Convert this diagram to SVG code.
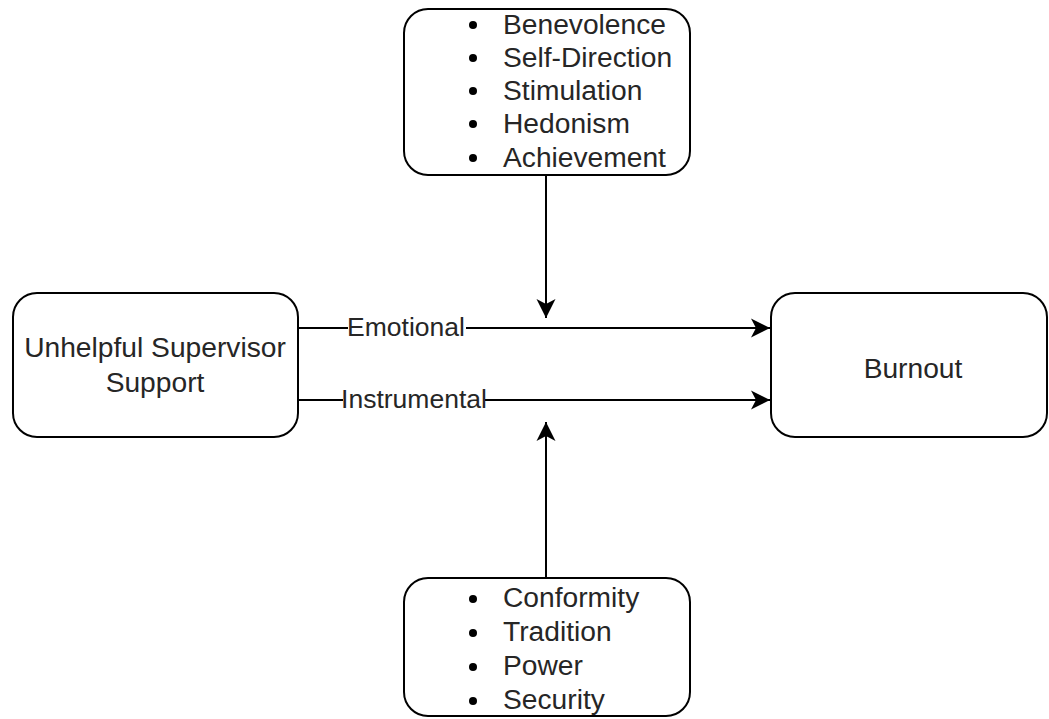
<svg xmlns="http://www.w3.org/2000/svg" width="1049" height="719" viewBox="0 0 1049 719">
<style>
.box{fill:#fff;stroke:#000;stroke-width:2}
.t{font-family:"Liberation Sans",Arial,sans-serif;font-size:28.2px;fill:#262626}
.m{text-anchor:middle}
.edge{stroke:#000;stroke-width:2;fill:none}
.lbl{font-family:"Liberation Sans",Arial,sans-serif;font-size:26.5px;fill:#262626;text-anchor:middle}
</style>
<defs>
<marker id="arr" markerUnits="userSpaceOnUse" viewBox="0 0 20 20" markerWidth="20" markerHeight="20" refX="19" refY="10" orient="auto">
<path d="M0,0.5 L19,10 L0,19.5 L5,10 Z" fill="#000"/>
</marker>
</defs>
<rect width="1049" height="719" fill="#fff"/>
<g id="edges">
<line class="edge" x1="298" y1="328" x2="770" y2="328" marker-end="url(#arr)"/>
<line class="edge" x1="298" y1="400" x2="770" y2="400" marker-end="url(#arr)"/>
<line class="edge" x1="546" y1="175" x2="546" y2="318" marker-end="url(#arr)"/>
<line class="edge" x1="546" y1="578" x2="546" y2="422" marker-end="url(#arr)"/>
<rect x="348" y="314" width="118" height="28" fill="#fff"/>
<text class="lbl" x="406" y="336">Emotional</text>
<rect x="343" y="386" width="142" height="28" fill="#fff"/>
<text class="lbl" x="414" y="408">Instrumental</text>
</g>
<g id="top-values">
<rect class="box" x="404" y="9" width="286" height="166" rx="24"/>
<g fill="#000"><circle cx="473" cy="25" r="4"/><circle cx="473" cy="58" r="4"/><circle cx="473" cy="91" r="4"/><circle cx="473" cy="124" r="4"/><circle cx="473" cy="158" r="4"/></g>
<text class="t" x="503" y="34">Benevolence</text>
<text class="t" x="503" y="67">Self-Direction</text>
<text class="t" x="503" y="100">Stimulation</text>
<text class="t" x="503" y="133">Hedonism</text>
<text class="t" x="503" y="167">Achievement</text>
</g>
<g id="bottom-values">
<rect class="box" x="404" y="578" width="286" height="138" rx="24"/>
<g fill="#000"><circle cx="473" cy="599" r="4"/><circle cx="473" cy="633" r="4"/><circle cx="473" cy="667" r="4"/><circle cx="473" cy="701" r="4"/></g>
<text class="t" x="503" y="607">Conformity</text>
<text class="t" x="503" y="641">Tradition</text>
<text class="t" x="503" y="675">Power</text>
<text class="t" x="503" y="709">Security</text>
</g>
<g id="supervisor">
<rect class="box" x="13" y="293" width="285" height="144" rx="24"/>
<text class="t m" x="155" y="357">Unhelpful Supervisor</text>
<text class="t m" x="155" y="392">Support</text>
</g>
<g id="burnout">
<rect class="box" x="771" y="293" width="276" height="144" rx="24"/>
<text class="t m" x="913" y="378">Burnout</text>
</g>
</svg>
